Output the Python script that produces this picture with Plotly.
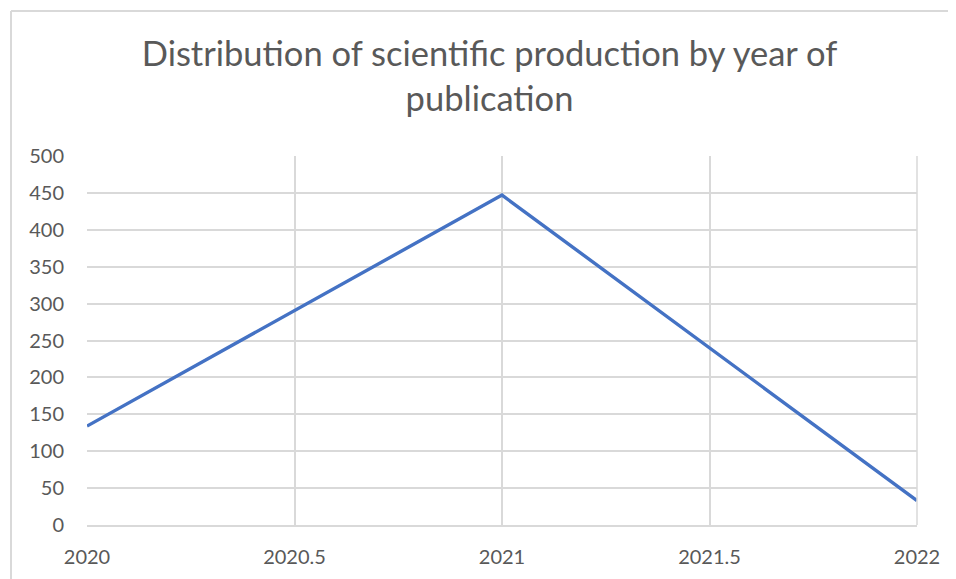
import plotly.graph_objects as go

years = [2020, 2021, 2022]
counts = [134, 447, 33]
x_ticks = [2020, 2020.5, 2021, 2021.5, 2022]
x_tick_labels = ["2020", "2020.5", "2021", "2021.5", "2022"]
y_ticks = [0, 50, 100, 150, 200, 250, 300, 350, 400, 450, 500]

# page body adds an 8px offset; compensate so marks land where the reference has them
OFF = 8
W, H = 956, 579
L, R, T, B = 87 - OFF, 39 + OFF, 156 - OFF, 54 + OFF
pw, ph = W - L - R, H - T - B

fig = go.Figure()
fig.add_trace(go.Scatter(x=years, y=counts, mode="lines",
                         line=dict(color="#4472C4", width=3.4)))

font = "Lato, 'Open Sans', sans-serif"
fig.update_layout(
    width=W, height=H,
    margin=dict(l=L, r=R, t=T, b=B),
    paper_bgcolor="white", plot_bgcolor="white",
    showlegend=False,
    title=dict(text="Distribution of scientific production by year of<br>publication",
               x=(489.5 - OFF - L) / pw, xref="paper", xanchor="center",
               y=1 - (66 - OFF) / H, yanchor="middle",
               font=dict(family=font, size=34.5, color="#595959")),
    xaxis=dict(range=[2020, 2022], tickvals=x_ticks, ticktext=x_tick_labels,
               showgrid=True, gridcolor="#D9D9D9", gridwidth=1.5,
               showline=True, linecolor="#D9D9D9", linewidth=1.5, mirror=False,
               zeroline=False, ticks="", ticklabelstandoff=13,
               tickfont=dict(family=font, size=20, color="#595959")),
    yaxis=dict(range=[0, 500], tickvals=y_ticks,
               showgrid=True, gridcolor="#D9D9D9", gridwidth=1.5,
               showline=False, zeroline=False, ticks="", ticklabelstandoff=22,
               tickfont=dict(family=font, size=20, color="#595959")),
    shapes=[
        dict(type="line", xref="paper", yref="paper",
             x0=(11 - OFF - L) / pw, x1=(W + 5 - L) / pw,
             y0=(H - B - (11 - OFF)) / ph, y1=(H - B - (11 - OFF)) / ph,
             line=dict(color="#D9D9D9", width=2)),
        dict(type="line", xref="paper", yref="paper",
             x0=(11 - OFF - L) / pw, x1=(11 - OFF - L) / pw,
             y0=(H - B - (11 - OFF)) / ph, y1=-(B + 5) / ph,
             line=dict(color="#D9D9D9", width=2)),
        dict(type="line", xref="paper", yref="paper",
             x0=1, x1=1, y0=0, y1=1,
             line=dict(color="#D9D9D9", width=1.5)),
    ],
)

fig.write_html("out.html")
